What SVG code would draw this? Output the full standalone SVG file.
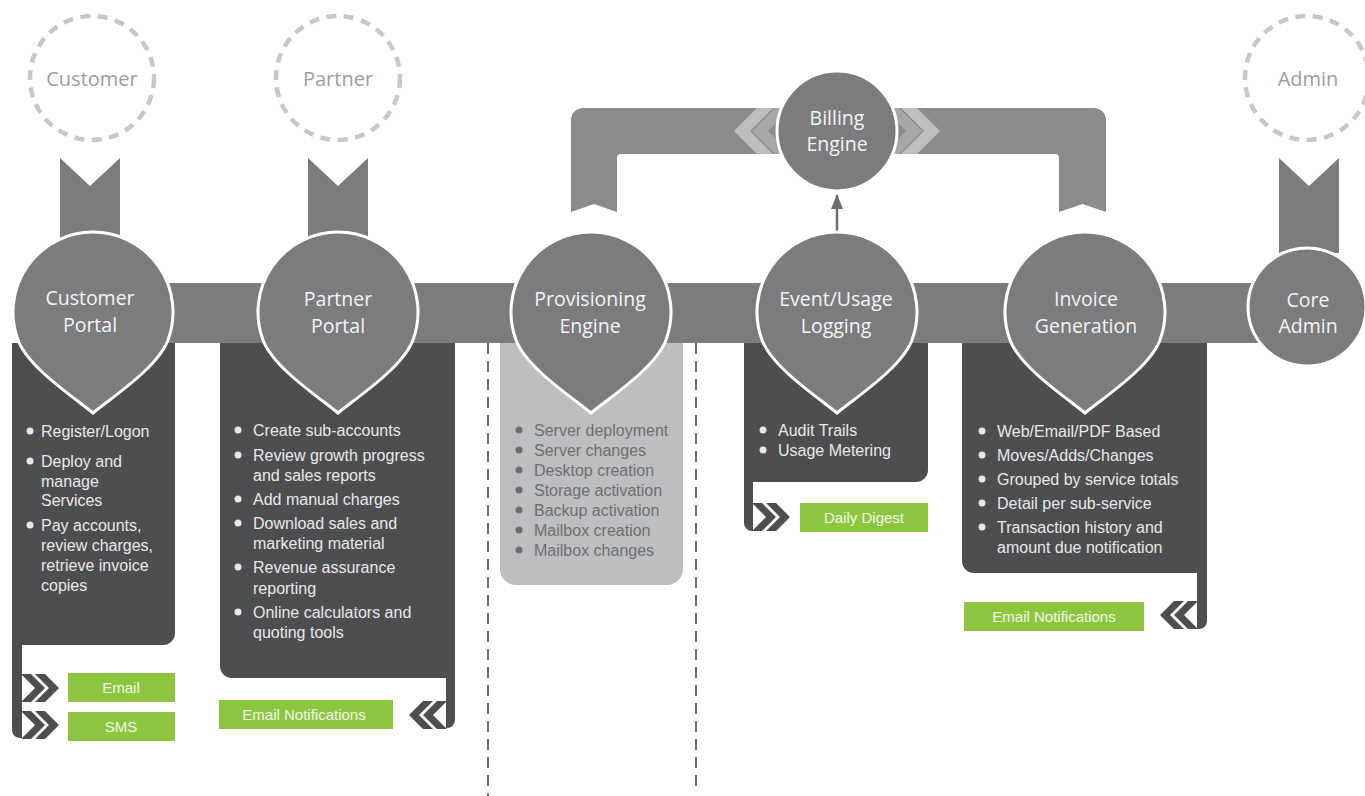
<svg xmlns="http://www.w3.org/2000/svg" width="1365" height="796" viewBox="0 0 1365 796">
<style>
.bar{fill:#7b7c7e}
.brk{fill:#8a8b8d}
.dark{fill:#4d4e50}
.light{fill:#bdbec0}
.pin{fill:#7b7c7e;stroke:#ffffff;stroke-width:3}
.actor{fill:none;stroke:#c7c8c9;stroke-width:4.5;stroke-dasharray:10 7.5}
.actorT{font-family:"Open Sans","Noto Sans",sans-serif;font-size:20px;fill:#9d9ea0;text-anchor:middle}
.title{font-family:"Open Sans","Noto Sans",sans-serif;font-size:19.5px;fill:#f4f4f4;text-anchor:middle}
.item{font-family:"Liberation Sans",Arial,sans-serif;font-size:16px;fill:#e8e8e8}
.itemD{font-family:"Liberation Sans",Arial,sans-serif;font-size:16px;fill:#6d6e71}
.dot{fill:#e8e8e8}
.dotD{fill:#6d6e71}
.green{fill:#8cc63f}
.gT{font-family:"Liberation Sans",Arial,sans-serif;font-size:15px;fill:#f2f7ea;text-anchor:middle}
.vdash{fill:none;stroke:#6d6e71;stroke-width:2;stroke-dasharray:11 7}
.chev{fill:#4d4e50}
</style>
<defs>
<path id="pinShape" d="M-75.2,27.4 A80,80 0 1 1 75.2,27.4 C65,55.6 18,86 0,101 C-18,86 -65,55.6 -75.2,27.4 Z"/>
<path id="ribbon" d="M-30,0 L0,28 L30,0 V95 H-30 Z"/>
<g id="dchev">
<polygon points="0,0 10,0 24,14 10,28 0,28 14,14"/>
<polygon points="14,0 24,0 38,14 24,28 14,28 28,14"/>
</g>
<marker id="arr" viewBox="0 0 15 12" refX="14" refY="6" markerWidth="15" markerHeight="12" markerUnits="userSpaceOnUse" orient="auto">
<polygon points="0,0 15,6 0,12" fill="#6d6e71"/>
</marker>
</defs>

<!-- dashed separators -->
<line class="vdash" x1="488" y1="343" x2="488" y2="796"/>
<line class="vdash" x1="696" y1="343" x2="696" y2="790"/>

<!-- actor circles -->
<g id="actor-customer">
<circle class="actor" cx="92" cy="78" r="62"/>
<text class="actorT" x="92" y="86">Customer</text>
</g>
<g id="actor-partner">
<circle class="actor" cx="338" cy="78" r="62"/>
<text class="actorT" x="338" y="86">Partner</text>
</g>
<g id="actor-admin">
<circle class="actor" cx="1307" cy="78" r="62"/>
<text class="actorT" x="1308" y="86">Admin</text>
</g>

<!-- detail boxes -->
<g id="box-customer">
<path class="dark" d="M12,343 H175 V633 A12,12 0 0 1 163,645 H22 V738 H20 A8,8 0 0 1 12,730 Z"/>
<g class="dot">
<circle cx="30" cy="431" r="3.5"/><circle cx="30" cy="461" r="3.5"/><circle cx="30" cy="525" r="3.5"/>
</g>
<text class="item" x="41" y="437">Register/Logon</text>
<text class="item" x="41" y="467">Deploy and</text>
<text class="item" x="41" y="487">manage</text>
<text class="item" x="41" y="506">Services</text>
<text class="item" x="41" y="531">Pay accounts,</text>
<text class="item" x="41" y="551">review charges,</text>
<text class="item" x="41" y="571">retrieve invoice</text>
<text class="item" x="41" y="591">copies</text>
<use href="#dchev" class="chev" x="21" y="674"/>
<use href="#dchev" class="chev" x="21" y="711"/>
<rect class="green" x="68" y="673" width="107" height="29"/>
<text class="gT" x="121" y="693">Email</text>
<rect class="green" x="68" y="712" width="107" height="29"/>
<text class="gT" x="121" y="732">SMS</text>
</g>

<g id="box-partner">
<path class="dark" d="M220,343 H455 V720 A8,8 0 0 1 447,728 H446 V678 H232 A12,12 0 0 1 220,666 Z"/>
<g class="dot">
<circle cx="238" cy="430" r="3.5"/><circle cx="238" cy="455" r="3.5"/><circle cx="238" cy="499" r="3.5"/><circle cx="238" cy="523" r="3.5"/><circle cx="238" cy="567" r="3.5"/><circle cx="238" cy="612" r="3.5"/>
</g>
<text class="item" x="253" y="436">Create sub-accounts</text>
<text class="item" x="253" y="461">Review growth progress</text>
<text class="item" x="253" y="481">and sales reports</text>
<text class="item" x="253" y="505">Add manual charges</text>
<text class="item" x="253" y="529">Download sales and</text>
<text class="item" x="253" y="549">marketing material</text>
<text class="item" x="253" y="573">Revenue assurance</text>
<text class="item" x="253" y="594">reporting</text>
<text class="item" x="253" y="618">Online calculators and</text>
<text class="item" x="253" y="638">quoting tools</text>
<use href="#dchev" class="chev" transform="translate(447,701) scale(-1,1)"/>
<rect class="green" x="219" y="700" width="174" height="29"/>
<text class="gT" x="304" y="720">Email Notifications</text>
</g>

<g id="box-provisioning">
<path class="light" d="M500,343 H683 V569 A16,16 0 0 1 667,585 H516 A16,16 0 0 1 500,569 Z"/>
<g class="dotD">
<circle cx="519" cy="430" r="3.5"/><circle cx="519" cy="450" r="3.5"/><circle cx="519" cy="470" r="3.5"/><circle cx="519" cy="490" r="3.5"/><circle cx="519" cy="510" r="3.5"/><circle cx="519" cy="530" r="3.5"/><circle cx="519" cy="550" r="3.5"/>
</g>
<text class="itemD" x="534" y="436">Server deployment</text>
<text class="itemD" x="534" y="456">Server changes</text>
<text class="itemD" x="534" y="476">Desktop creation</text>
<text class="itemD" x="534" y="496">Storage activation</text>
<text class="itemD" x="534" y="516">Backup activation</text>
<text class="itemD" x="534" y="536">Mailbox creation</text>
<text class="itemD" x="534" y="556">Mailbox changes</text>
</g>

<g id="box-event">
<path class="dark" d="M744,343 H928 V470 A12,12 0 0 1 916,482 H753 V531 H752 A8,8 0 0 1 744,523 Z"/>
<g class="dot">
<circle cx="763" cy="430" r="3.5"/><circle cx="763" cy="450" r="3.5"/>
</g>
<text class="item" x="778" y="436">Audit Trails</text>
<text class="item" x="778" y="456">Usage Metering</text>
<use href="#dchev" class="chev" x="752" y="503"/>
<rect class="green" x="800" y="503" width="128" height="29"/>
<text class="gT" x="864" y="523">Daily Digest</text>
</g>

<g id="box-invoice">
<path class="dark" d="M962,343 H1207 V621 A8,8 0 0 1 1199,629 H1197 V573 H974 A12,12 0 0 1 962,561 Z"/>
<g class="dot">
<circle cx="982" cy="431" r="3.5"/><circle cx="982" cy="455" r="3.5"/><circle cx="982" cy="479" r="3.5"/><circle cx="982" cy="503" r="3.5"/><circle cx="982" cy="527" r="3.5"/>
</g>
<text class="item" x="997" y="437">Web/Email/PDF Based</text>
<text class="item" x="997" y="461">Moves/Adds/Changes</text>
<text class="item" x="997" y="485">Grouped by service totals</text>
<text class="item" x="997" y="509">Detail per sub-service</text>
<text class="item" x="997" y="533">Transaction history and</text>
<text class="item" x="997" y="553">amount due notification</text>
<use href="#dchev" class="chev" transform="translate(1198,601) scale(-1,1)"/>
<rect class="green" x="964" y="602" width="180" height="29"/>
<text class="gT" x="1054" y="622">Email Notifications</text>
</g>

<!-- connectors -->
<g id="connectors">
<rect class="bar" x="93" y="283" width="1214" height="60"/>
<use href="#ribbon" class="bar" x="90" y="158"/>
<use href="#ribbon" class="bar" x="338" y="158"/>
<use href="#ribbon" class="bar" x="1309" y="158"/>
<path class="brk" d="M571,212 V120 A12,12 0 0 1 583,108 H1094 A12,12 0 0 1 1106,120 V212 L1082.5,204 L1059,212 V158 A4,4 0 0 0 1055,154 H621 A4,4 0 0 0 617,158 V212 L594,204 Z"/>
<polygon fill="#bdbec0" points="734,131 757,108 773,108 750,131 773,154 757,154"/>
<polygon fill="#a6a7a9" points="752,131 775,108 791,108 768,131 791,154 775,154"/>
<polygon fill="#bdbec0" points="940,131 917,108 901,108 924,131 901,154 917,154"/>
<polygon fill="#a6a7a9" points="922,131 899,108 883,108 906,131 883,154 899,154"/>
<line x1="837" y1="232" x2="837" y2="195" stroke="#6d6e71" stroke-width="2.5" marker-end="url(#arr)"/>
</g>

<!-- nodes -->
<g id="node-customer-portal">
<use href="#pinShape" class="pin" x="93" y="312"/>
<text class="title" x="90" y="305">Customer</text>
<text class="title" x="90" y="332">Portal</text>
</g>
<g id="node-partner-portal">
<use href="#pinShape" class="pin" x="338" y="312"/>
<text class="title" x="338" y="306">Partner</text>
<text class="title" x="338" y="333">Portal</text>
</g>
<g id="node-provisioning">
<use href="#pinShape" class="pin" x="591" y="312"/>
<text class="title" x="590" y="306">Provisioning</text>
<text class="title" x="590" y="333">Engine</text>
</g>
<g id="node-event">
<use href="#pinShape" class="pin" x="837" y="312"/>
<text class="title" x="836" y="306">Event/Usage</text>
<text class="title" x="836" y="333">Logging</text>
</g>
<g id="node-invoice">
<use href="#pinShape" class="pin" x="1085" y="312"/>
<text class="title" x="1086" y="306">Invoice</text>
<text class="title" x="1086" y="333">Generation</text>
</g>
<g id="node-billing">
<circle class="pin" cx="837" cy="131" r="60"/>
<text class="title" x="837" y="125">Billing</text>
<text class="title" x="837" y="151">Engine</text>
</g>
<g id="node-core-admin">
<circle class="pin" cx="1307" cy="307" r="59"/>
<text class="title" x="1308" y="307">Core</text>
<text class="title" x="1308" y="333">Admin</text>
</g>
</svg>
